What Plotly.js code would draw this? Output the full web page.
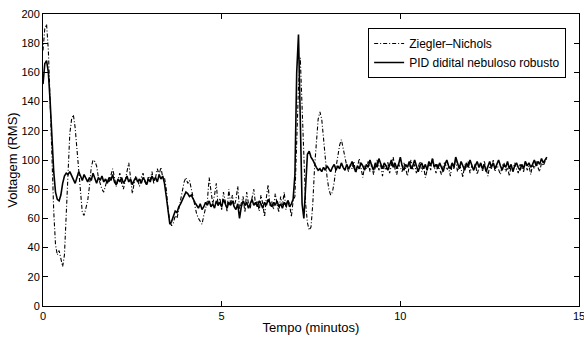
<!DOCTYPE html>
<html>
<head>
<meta charset="utf-8">
<script src="https://cdn.plot.ly/plotly-3.0.1.min.js"></script>
<style>
  html, body { margin: 0; padding: 0; background: #fff; }
  #chart { width: 584px; height: 338px; }
</style>
</head>
<body>
<div id="chart"></div>
<script>
// Sampling of both records (minutes)
const tStart = 0;
const tStep = 0.05;

// Ziegler-Nichols response (RMS volts), one value every 0.05 min from 0 to 14.1
const znValues = [
  175,190,193,175,140,100,65,42,35,38,33,27,35,60,95,118,128,131,122,108,90,75,64,62,68,
  72,82,95,100,99,96,88,84,80,78,
  83,87,85,90,94,88,82,86,91,84,
  80,86,92,98,88,77,84,89,86,82,
  88,91,85,83,89,86,92,84,88,94,
  90,95,88,
  88,80,66,58,55,57,62,60,66,72,80,85,88,84,86,80,73,68,63,60,58,56,62,68,
  72,88,80,70,76,84,68,74,66,78,
  72,65,80,70,76,68,73,82,66,71,
  75,64,78,70,67,74,80,69,72,65,
  76,70,61,74,83,68,72,66,77,70,
  64,75,69,78,66,73,70,61,72,
  75,110,150,170,140,100,70,57,52,54,70,95,115,128,133,128,115,100,88,80,76,78,85,95,104,110,114,108,100,96,
  92,97,94,99,91,95,101,93,88,96,
  94,99,92,97,90,95,100,93,97,89,
  96,93,99,91,96,102,94,90,97,95,
  92,98,94,89,96,100,93,97,91,95,
  99,92,96,88,94,98,93,101,95,91,
  97,94,90,96,99,93,95,89,97,94,
  100,92,96,94,88,97,95,99,91,96,
  93,98,90,95,97,92,99,94,89,96,
  94,100,92,97,93,90,96,98,92,95,
  89,96,93,98,94,91,97,95,92,99,
  93,96,90,97,94,99,95,92,98,96,
  99,101
];

// Robust fuzzy digital PID response (RMS volts), same sampling
const pidValues = [
  152,166,168,160,140,115,92,78,73,72,76,84,89,91,90,
  92,89,87,84,88,92,89,86,90,87,
  85,88,86,91,87,84,88,86,89,85,
  87,84,88,86,90,85,83,87,85,88,
  84,86,89,85,87,83,86,88,85,87,
  84,88,86,83,87,85,89,86,88,85,
  90,87,89,
  84,75,63,56,58,62,65,64,68,70,73,76,78,77,75,76,73,71,69,67,70,
  66,68,71,69,72,68,70,67,72,69,
  71,68,73,70,67,71,69,72,68,66,
  70,60,68,72,69,71,67,70,73,69,
  71,68,72,70,67,71,69,73,70,68,
  71,69,72,68,70,67,71,69,72,68,
  70,73,
  90,160,186,130,70,60,85,104,106,102,
  100,97,95,93,94,92,95,93,96,94,
  92,95,97,93,96,94,98,95,93,97,
  94,96,99,95,92,96,94,98,96,93,
  97,95,100,96,93,98,95,101,97,94,
  98,96,93,97,100,95,98,94,97,102,
  96,93,97,95,99,94,96,100,95,92,
  96,98,94,97,93,99,96,101,95,97,
  94,98,95,92,97,100,96,94,98,95,
  102,97,94,99,96,93,98,95,100,97,
  93,96,99,95,98,94,97,92,96,99,
  95,98,94,97,100,96,93,97,95,99,
  94,97,92,96,98,95,93,97,94,99,
  96,98,95,97,100,96,99,97,101,98,
  100,102
];

const seriesNames = ["Ziegler\u2013Nichols", "PID didital nebuloso robusto"];
const xTicks = [0, 5, 10, 15];
const yTicks = [0, 20, 40, 60, 80, 100, 120, 140, 160, 180, 200];

const FONT = "Liberation Sans, Arial, sans-serif";

const traces = [
  {
    type: "scatter", mode: "lines", name: seriesNames[0],
    x0: tStart, dx: tStep, y: znValues,
    line: { color: "#000", width: 1.1, dash: "4px,2px,1px,2px" }
  },
  {
    type: "scatter", mode: "lines", name: seriesNames[1],
    x0: tStart, dx: tStep, y: pidValues,
    line: { color: "#000", width: 1.6 }
  }
];

const axisCommon = {
  showline: true, linecolor: "#000", linewidth: 1, mirror: "ticks",
  ticks: "inside", ticklen: 5, tickcolor: "#000", tickwidth: 1,
  showgrid: false, zeroline: false,
  tickfont: { family: FONT, size: 11, color: "#000" }
};

const layout = {
  width: 584, height: 338,
  margin: { l: 43, r: 5, t: 14, b: 32 },
  paper_bgcolor: "#fff", plot_bgcolor: "#fff",
  font: { family: FONT, color: "#000" },
  showlegend: true,
  legend: {
    x: 0.976, y: 0.952, xanchor: "right", yanchor: "top",
    bgcolor: "#fff", bordercolor: "#000", borderwidth: 1,
    font: { family: FONT, size: 12, color: "#000" },
    itemwidth: 30, tracegroupgap: 0
  },
  xaxis: Object.assign({}, axisCommon, {
    range: [0, 15], tickvals: xTicks, ticktext: xTicks.map(String),
    ticklabeloverflow: "allow",
    title: { text: "Tempo (minutos)", standoff: 1, font: { size: 13, family: FONT, color: "#000" } }
  }),
  yaxis: Object.assign({}, axisCommon, {
    range: [0, 200], tickvals: yTicks, ticktext: yTicks.map(String),
    ticklabeloverflow: "allow",
    title: { text: "Voltagem (RMS)", standoff: 0, font: { size: 13, family: FONT, color: "#000" } }
  })
};

Plotly.newPlot("chart", traces, layout, { staticPlot: true, displayModeBar: false });
</script>
</body>
</html>
